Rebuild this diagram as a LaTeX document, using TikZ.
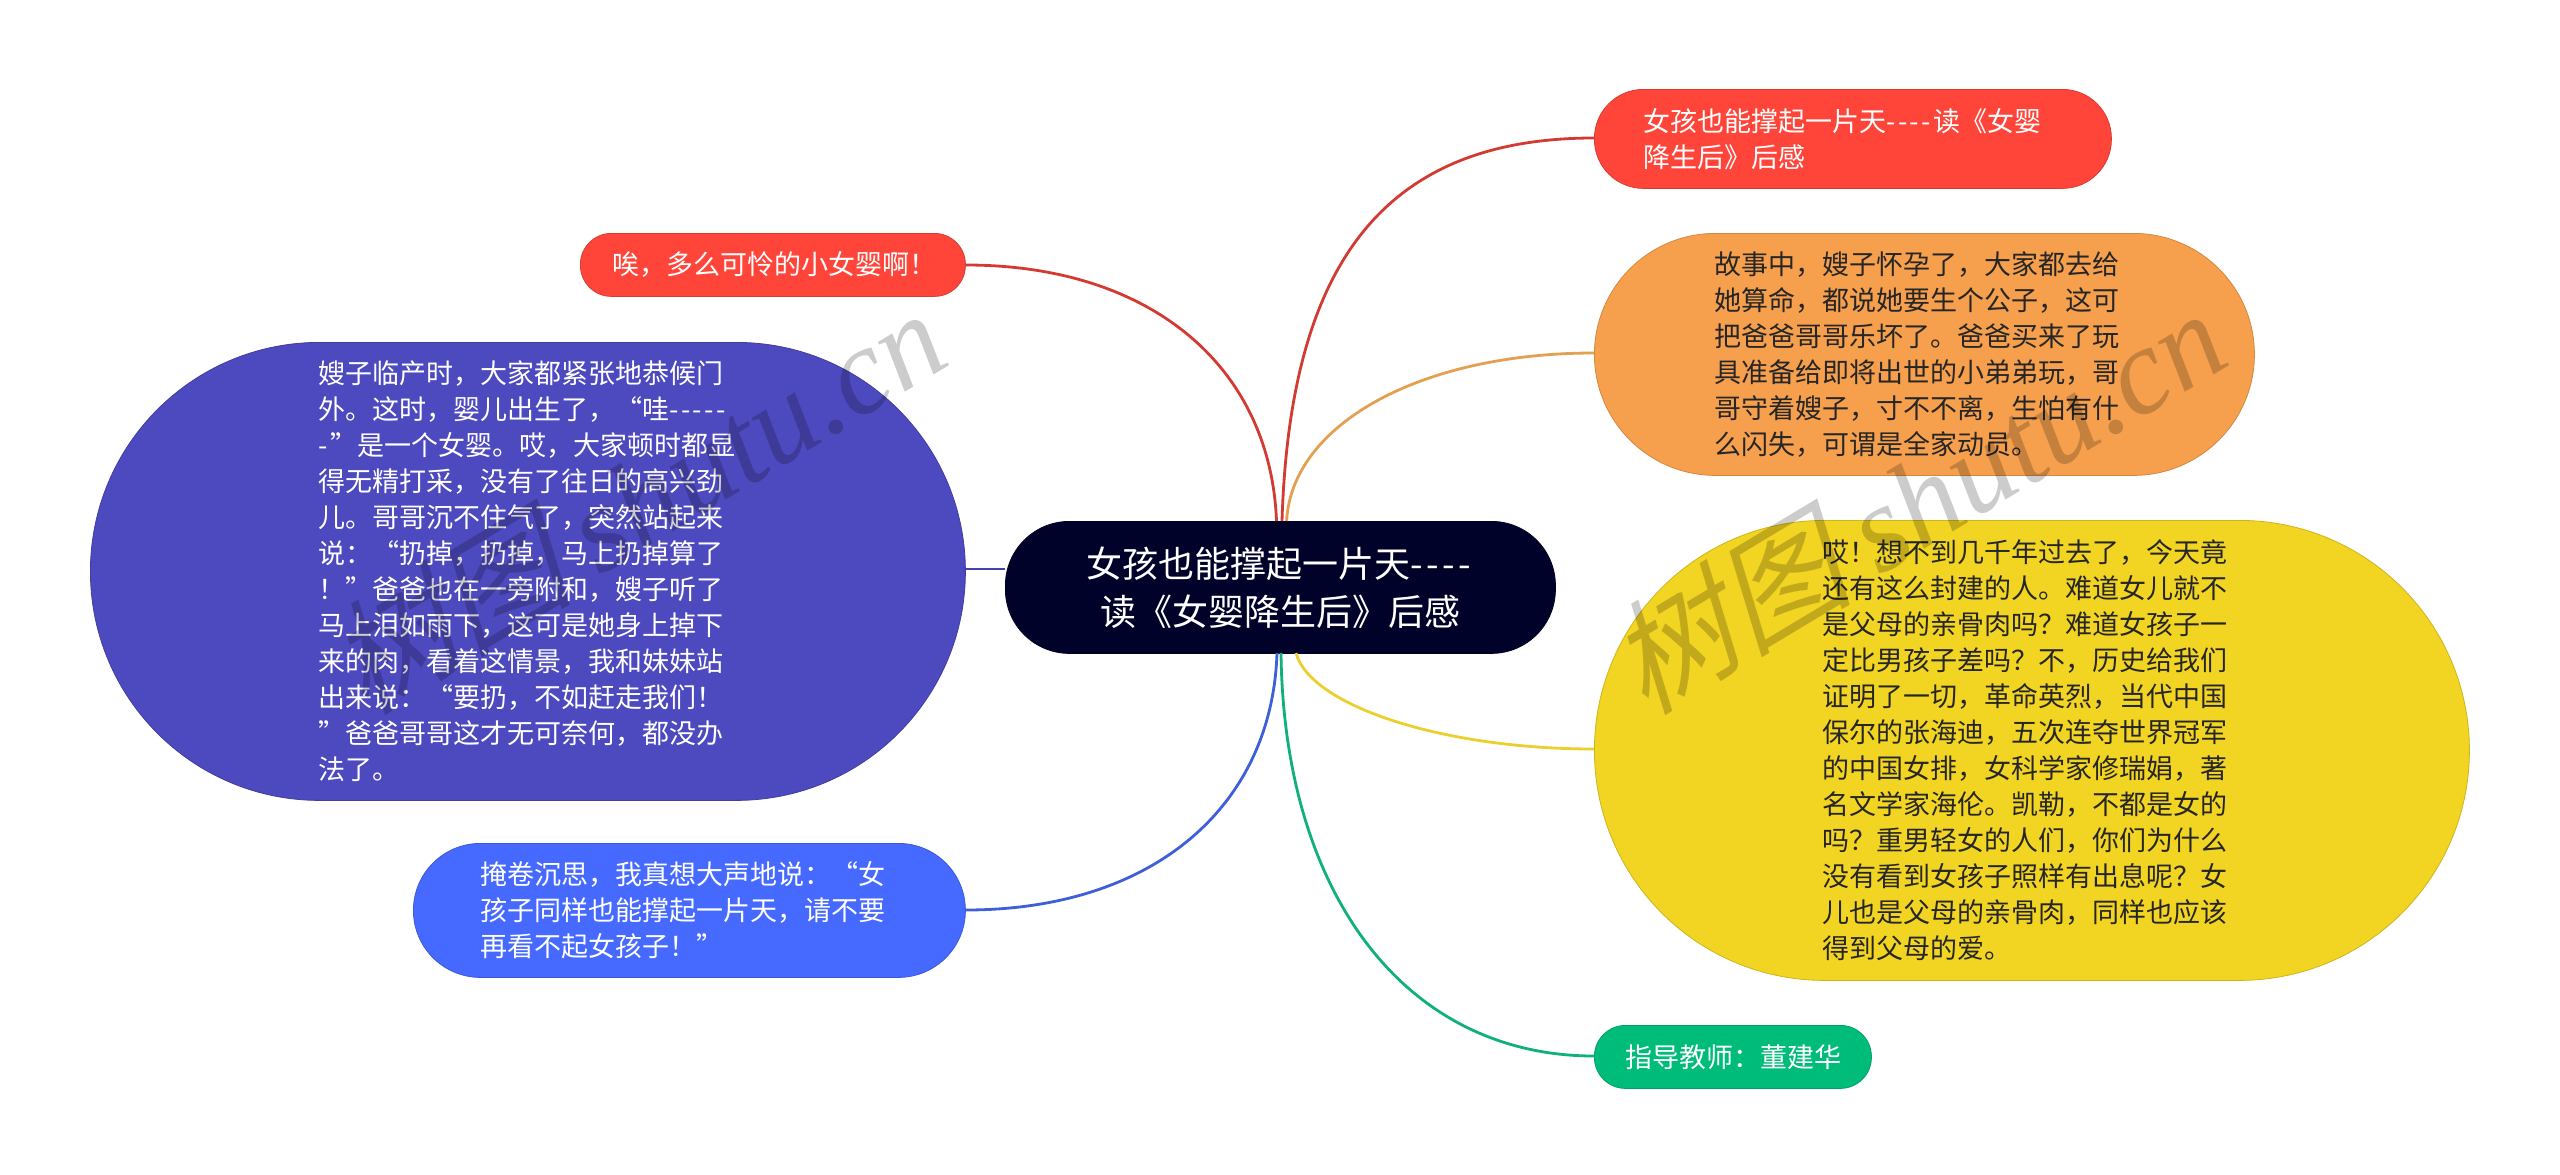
\documentclass[tikz,border=0pt]{standalone}
\usepackage{fontspec}
\setmainfont{Noto Sans CJK SC}[Ligatures=TeXOff]
\newfontfamily\wmcjk{Noto Sans CJK SC}[FakeSlant=0.25]
\newfontfamily\wmlat{Liberation Serif}[ItalicFont={Liberation Serif Italic}]
\usetikzlibrary{calc}
\newcommand\hy{-\kern0.09em\relax}
\definecolor{cRed}{HTML}{FF4539}
\definecolor{cRedL}{HTML}{D33B32}
\definecolor{cOrange}{HTML}{F6A04D}
\definecolor{cOrangeL}{HTML}{E3A052}
\definecolor{cYellow}{HTML}{F2D422}
\definecolor{cYellowL}{HTML}{EBCF2E}
\definecolor{cGreen}{HTML}{00BC7B}
\definecolor{cGreenL}{HTML}{10B07A}
\definecolor{cBlue}{HTML}{4669FF}
\definecolor{cBlueL}{HTML}{3E5FD8}
\definecolor{cPurple}{HTML}{4D49BE}
\definecolor{cPurpleL}{HTML}{4441B0}
\definecolor{cRoot}{HTML}{000229}
\tikzset{
  x=1pt,y=-1pt,
  topic/.style={rectangle,inner sep=0pt,align=left,draw=#1!85!black,line width=0.8pt,fill=#1,anchor=north west},
  bodytext/.style={font=\fontsize{27}{36}\selectfont},
  link/.style={line width=2.8pt,draw=#1},
  wm/.style={rotate=31,anchor=base west,opacity=0.2,text=black,inner sep=0pt,font=\fontsize{123}{133}\selectfont},
}
\begin{document}
\begin{tikzpicture}
\useasboundingbox (0,0) rectangle (2560,1175);
\node[topic=cRoot,text=white,minimum width=550pt,minimum height=132pt,text width=550pt,align=center,rounded corners=64pt,font=\fontsize{36}{48}\selectfont] (root) at (1005,521) {女孩也能撑起一片天\hy\hy\hy\hy\\读《女婴降生后》后感};
\node[topic=cRed,text=white,bodytext,minimum width=517pt,minimum height=99pt,text width=419pt,rounded corners=49pt] (a) at (1594,89) {女孩也能撑起一片天\hy\hy\hy\hy 读《女婴\\降生后》后感};
\node[topic=cOrange,text=black!85,bodytext,minimum width=660pt,minimum height=242pt,text width=420pt,rounded corners=121pt] (b) at (1594,233) {故事中，嫂子怀孕了，大家都去给\\她算命，都说她要生个公子，这可\\把爸爸哥哥乐坏了。爸爸买来了玩\\具准备给即将出世的小弟弟玩，哥\\哥守着嫂子，寸不不离，生怕有什\\么闪失，可谓是全家动员。};
\node[topic=cYellow,text=black!85,bodytext,minimum width=875pt,minimum height=460pt,text width=419pt,rounded corners=230pt] (c) at (1594,520) {哎！想不到几千年过去了，今天竟\\还有这么封建的人。难道女儿就不\\是父母的亲骨肉吗？难道女孩子一\\定比男孩子差吗？不，历史给我们\\证明了一切，革命英烈，当代中国\\保尔的张海迪，五次连夺世界冠军\\的中国女排，女科学家修瑞娟，著\\名文学家海伦。凯勒，不都是女的\\吗？重男轻女的人们，你们为什么\\没有看到女孩子照样有出息呢？女\\儿也是父母的亲骨肉，同样也应该\\得到父母的爱。};
\node[topic=cGreen,text=white,bodytext,minimum width=277pt,minimum height=63pt,text width=214pt,rounded corners=31pt] (d) at (1594,1025) {指导教师：董建华};
\node[topic=cRed,text=white,bodytext,minimum width=385pt,minimum height=63pt,text width=321pt,rounded corners=31pt] (e) at (580,233) {唉，多么可怜的小女婴啊！};
\node[topic=cPurple,text=white,bodytext,minimum width=875pt,minimum height=458pt,text width=419pt,rounded corners=229pt] (f) at (90,342) {嫂子临产时，大家都紧张地恭候门\\外。这时，婴儿出生了，“哇\hy\hy\hy\hy\hy\\\hy”是一个女婴。哎，大家顿时都显\\得无精打采，没有了往日的高兴劲\\儿。哥哥沉不住气了，突然站起来\\说：“扔掉，扔掉，马上扔掉算了\\！”爸爸也在一旁附和，嫂子听了\\马上泪如雨下，这可是她身上掉下\\来的肉，看着这情景，我和妹妹站\\出来说：“要扔，不如赶走我们！\\”爸爸哥哥这才无可奈何，都没办\\法了。};
\node[topic=cBlue,text=white,bodytext,minimum width=552pt,minimum height=134pt,text width=418pt,rounded corners=67pt] (g) at (413,843) {掩卷沉思，我真想大声地说：“女\\孩子同样也能撑起一片天，请不要\\再看不起女孩子！”};
\draw[link=cRedL] ($(root.north west)+(277,0)$) .. controls +(8,-259) and +(-209,0) .. ($(a.north west)+(0,49)$);
\draw[link=cOrangeL] ($(root.north west)+(281.6,0)$) .. controls +(5,-96) and +(-175,0) .. ($(b.north west)+(0,120)$);
\draw[link=cYellowL] ($(root.north west)+(291,132)$) .. controls +(14,52) and +(-154,0) .. ($(c.north west)+(0,229)$);
\draw[link=cGreenL] ($(root.north west)+(276,132)$) .. controls +(3,242) and +(-188,0) .. ($(d.north west)+(0,31)$);
\draw[link=cRedL] ($(root.north west)+(271.5,0)$) .. controls +(-6,-153) and +(187,0) .. ($(e.north east)+(0,32)$);
\draw[link=cPurpleL] ($(root.north west)+(0,48)$) -- ($(f.north east)+(0,227)$);
\draw[link=cBlueL] ($(root.north west)+(272,132)$) .. controls +(-5,154) and +(187,0) .. ($(g.north east)+(0,67)$);
\node[wm] (w1) at (365,717) {\wmcjk 树图 \wmlat\itshape shutu.cn};
\node[wm] (w2) at (1645,717) {\wmcjk 树图 \wmlat\itshape shutu.cn};
\end{tikzpicture}
\end{document}
